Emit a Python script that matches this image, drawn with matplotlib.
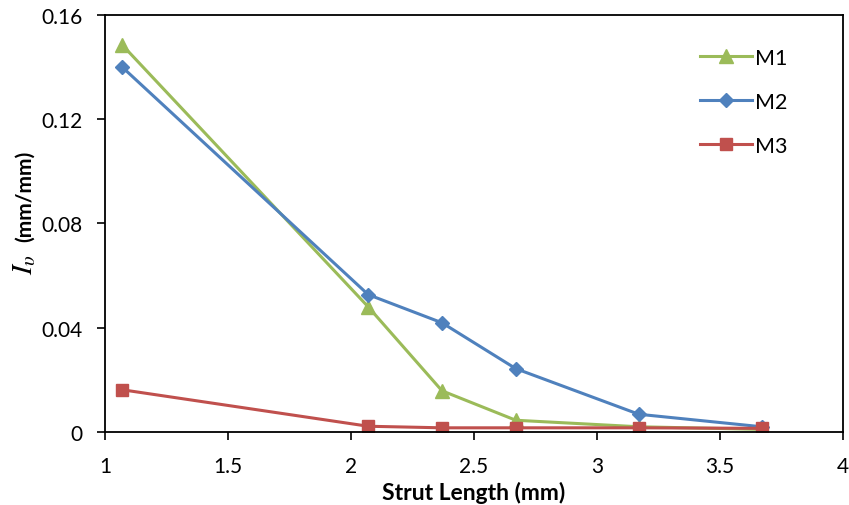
import matplotlib
matplotlib.use("Agg")
import matplotlib.pyplot as plt

strut_length = [1.07, 2.07, 2.37, 2.67, 3.17, 3.67]
m1 = [0.1485, 0.0480, 0.0158, 0.0045, 0.0020, 0.0010]
m2 = [0.1400, 0.0527, 0.0419, 0.0243, 0.0068, 0.0020]
m3 = [0.0162, 0.0022, 0.0016, 0.0016, 0.0016, 0.0014]
series_names = ["M1", "M2", "M3"]
x_ticks = [1, 1.5, 2, 2.5, 3, 3.5, 4]
x_tick_labels = ["1", "1.5", "2", "2.5", "3", "3.5", "4"]
y_ticks = [0, 0.04, 0.08, 0.12, 0.16]
y_tick_labels = ["0", "0.04", "0.08", "0.12", "0.16"]

plt.rcParams['font.family'] = ['Lato', 'DejaVu Sans']
plt.rcParams['mathtext.fontset'] = 'stix'

fig = plt.figure(figsize=(8.49, 5.06), dpi=100)
ax = fig.add_axes([0.1237, 0.1443, 0.9929 - 0.1237, 0.9684 - 0.1443])

ax.plot(strut_length, m1, color='#9BBB59', marker='^', markersize=9.5, lw=2.2, label=series_names[0])
ax.plot(strut_length, m2, color='#4F81BD', marker='D', markersize=7, lw=2.2, label=series_names[1])
ax.plot(strut_length, m3, color='#C0504D', marker='s', markersize=8.5, lw=2.2, label=series_names[2])

ax.set_xlim(1, 4)
ax.set_ylim(0, 0.16)
ax.set_xticks(x_ticks)
ax.set_xticklabels(x_tick_labels)
ax.set_yticks(y_ticks)
ax.set_yticklabels(y_tick_labels)
ax.tick_params(direction='out', length=6, width=1.2, labelsize=15, color='black')
ax.tick_params(axis='x', pad=11)
ax.tick_params(axis='y', pad=10)
for s in ax.spines.values():
    s.set_linewidth(1.3)

ax.set_xlabel("Strut Length (mm)", fontsize=16.5, fontweight='bold', labelpad=4)

# y label: italic serif symbol + bold sans unit
fig.text(25 / 849, 1 - 196 / 506, "(mm/mm)", rotation=90, fontsize=15, fontweight='bold',
         ha='center', va='center')
fig.text(25 / 849, 1 - 264 / 506, r"$I_{\upsilon}$", rotation=90, fontsize=21,
         ha='center', va='center')

leg = ax.legend(loc='upper right', frameon=False, fontsize=15.5, handlelength=2.4,
                labelspacing=1.12, bbox_to_anchor=(0.951, 0.968), handletextpad=0.15)

fig.savefig("out.png", dpi=100)
